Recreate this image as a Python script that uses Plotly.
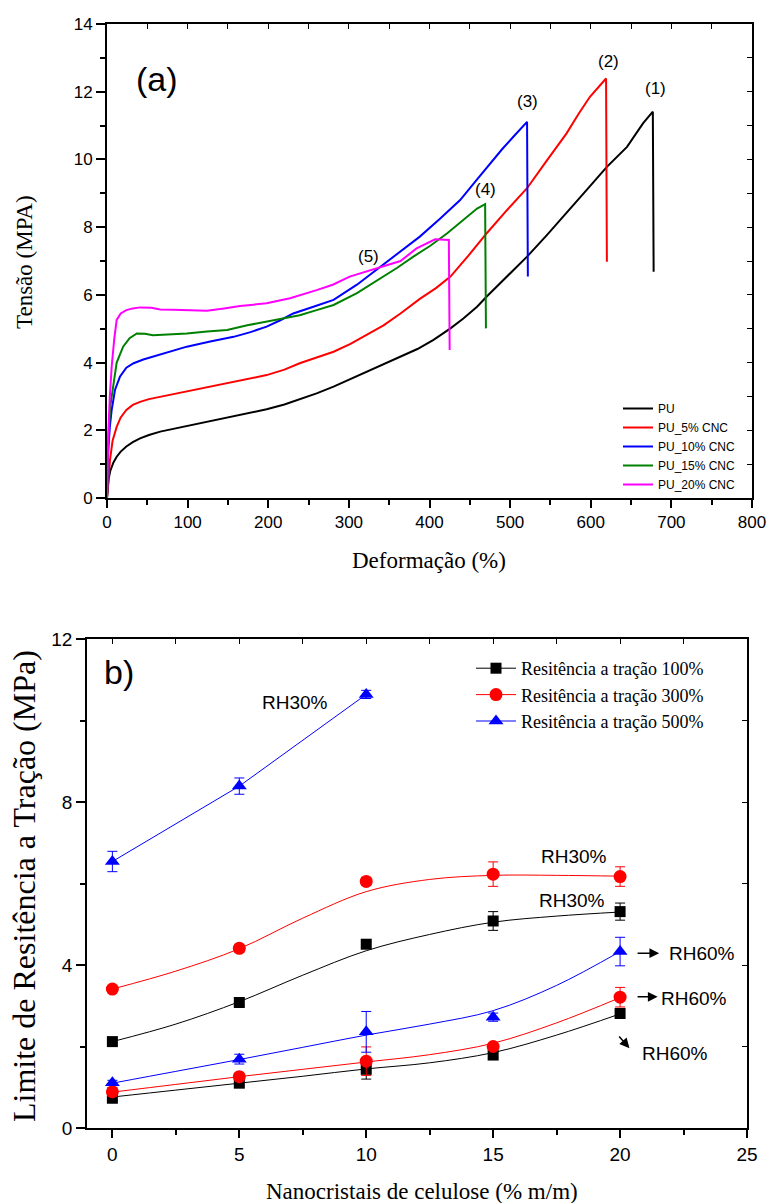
import plotly.graph_objects as go

W, H = 769, 1203

# ---------------- Panel (a): stress-strain curves ----------------
pu_x = [0, 1, 2, 4, 8, 12, 17, 24, 32, 41, 52, 66, 82, 99, 128, 157, 178, 198, 220, 239, 260, 281, 302, 322,
        343, 363, 385, 405, 426, 442, 459, 471, 496, 521, 545, 570, 595, 620, 645, 665, 677, 678]
pu_y = [0, 0.3, 0.55, 0.8, 1.05, 1.22, 1.37, 1.52, 1.65, 1.76, 1.86, 1.96, 2.04, 2.11, 2.25, 2.40, 2.50, 2.62,
        2.76, 2.91, 3.09, 3.29, 3.51, 3.73, 3.95, 4.15, 4.4, 4.67, 5.01, 5.30, 5.65, 5.95, 6.55, 7.13, 7.75,
        8.41, 9.1, 9.78, 10.37, 11.07, 11.41, 6.68]

pu5_x = [0, 1.5, 3.7, 7, 12, 17, 24, 32, 41, 52, 66, 82, 99, 128, 157, 178, 198, 220, 239, 260, 281, 302, 322,
         343, 364, 388, 408, 426, 448, 471, 496, 521, 545, 570, 585, 599, 619, 620]
pu5_y = [0, 0.6, 1.12, 1.7, 2.1, 2.38, 2.6, 2.75, 2.84, 2.92, 2.99, 3.07, 3.14, 3.28, 3.43, 3.53, 3.63, 3.79,
         3.98, 4.15, 4.32, 4.55, 4.81, 5.1, 5.45, 5.88, 6.2, 6.54, 7.15, 7.82, 8.5, 9.15, 9.95, 10.77, 11.35,
         11.85, 12.39, 6.98]

pu10_x = [0, 1.6, 3.5, 5.8, 10, 16, 24, 33, 45, 57, 78, 99, 128, 157, 178, 198, 215, 231, 256, 281, 310, 339,
          364, 388, 413, 438, 457, 475, 490, 504, 521, 522]
pu10_y = [0, 1.42, 2.1, 2.6, 3.2, 3.58, 3.85, 3.98, 4.09, 4.17, 4.32, 4.47, 4.62, 4.76, 4.9, 5.06, 5.25, 5.45,
          5.65, 5.85, 6.3, 6.83, 7.27, 7.72, 8.25, 8.8, 9.35, 9.88, 10.3, 10.67, 11.11, 6.54]

pu15_x = [0, 1.6, 4, 7.8, 12, 20, 28, 37, 47, 57, 78, 99, 124, 149, 174, 198, 220, 239, 260, 281, 310, 339,
          360, 380, 401, 422, 446, 459, 469, 470]
pu15_y = [0, 1.71, 2.7, 3.39, 4.0, 4.47, 4.72, 4.86, 4.85, 4.81, 4.83, 4.86, 4.92, 4.96, 5.1, 5.21, 5.3, 5.40,
          5.55, 5.70, 6.05, 6.49, 6.8, 7.13, 7.45, 7.82, 8.31, 8.55, 8.68, 5.01]

pu20_x = [0, 1.6, 3.5, 5.8, 9, 12, 17, 24, 32, 41, 55, 66, 82, 99, 124, 145, 165, 198, 227, 260, 280, 301, 320,
          339, 364, 384, 407, 424, 425]
pu20_y = [0, 1.91, 3.0, 3.88, 4.7, 5.26, 5.45, 5.55, 5.6, 5.63, 5.62, 5.57, 5.56, 5.55, 5.53, 5.6, 5.67, 5.75,
          5.9, 6.14, 6.3, 6.54, 6.68, 6.8, 7.0, 7.37, 7.64, 7.62, 4.37]

curve_names = ["PU", "PU_5% CNC", "PU_10% CNC", "PU_15% CNC", "PU_20% CNC"]
curve_colors = ["#000000", "#ff0000", "#0000ff", "#008000", "#ff00ff"]

peak_labels = ["(1)", "(2)", "(3)", "(4)", "(5)"]
peak_lab_x = [680, 622, 521, 470, 324]
peak_lab_y = [12.1, 12.89, 11.7, 9.1, 7.13]

# ---------------- Panel (b): tensile strength ----------------
cnc = [0, 5, 10, 15, 20]
cnc3 = [0, 5, 10]

s100_rh30 = [2.12, 3.08, 4.51, 5.08, 5.31]
e100_rh30 = [0.05, 0.06, 0.06, 0.23, 0.21]
s100_rh60 = [0.73, 1.10, 1.44, 1.79, 2.81]
e100_rh60 = [0.06, 0.06, 0.24, 0.06, 0.12]

s300_rh30 = [3.41, 4.41, 6.05, 6.23, 6.17]
e300_rh30 = [0.05, 0.10, 0.10, 0.30, 0.24]
s300_rh60 = [0.89, 1.26, 1.64, 2.00, 3.21]
e300_rh60 = [0.10, 0.06, 0.35, 0.06, 0.24]

s500_rh30 = [6.54, 8.39, 10.64]
e500_rh30 = [0.25, 0.20, 0.10]
s500_rh60 = [1.11, 1.69, 2.36, 2.72, 4.33]
e500_rh60 = [0.06, 0.12, 0.50, 0.10, 0.35]

# smooth fit curves
fit_x = [0, 2.5, 5, 7.5, 10, 12.5, 15, 17.5, 20]
fit100_rh30 = [2.12, 2.55, 3.1, 3.75, 4.35, 4.75, 5.05, 5.2, 5.3]
fit300_rh30 = [3.41, 3.85, 4.4, 5.15, 5.8, 6.1, 6.2, 6.2, 6.18]
fit100_rh60 = [0.76, 0.93, 1.1, 1.27, 1.45, 1.6, 1.85, 2.28, 2.8]
fit300_rh60 = [0.88, 1.07, 1.26, 1.44, 1.62, 1.8, 2.08, 2.58, 3.2]
fit500_rh60 = [1.1, 1.39, 1.68, 1.98, 2.28, 2.55, 2.88, 3.5, 4.33]

legend_b = ["Resitência a tração 100%", "Resitência a tração 300%", "Resitência a tração 500%"]
colors_b = ["#000000", "#ff0000", "#0000ff"]
symbols_b = ["square", "circle", "triangle-up"]
sizes_b = [11, 13, 13]

fig = go.Figure()

for xs, ys, nm, c in zip([pu_x, pu5_x, pu10_x, pu15_x, pu20_x],
                         [pu_y, pu5_y, pu10_y, pu15_y, pu20_y],
                         curve_names, curve_colors):
    fig.add_trace(go.Scatter(x=xs, y=ys, mode="lines", name=nm,
                             line=dict(color=c, width=2),
                             xaxis="x", yaxis="y", legend="legend"))

# fits
for ys, c in zip([fit100_rh30, fit300_rh30, fit100_rh60, fit300_rh60, fit500_rh60],
                 ["#000000", "#ff0000", "#000000", "#ff0000", "#0000ff"]):
    fig.add_trace(go.Scatter(x=fit_x, y=ys, mode="lines", line=dict(color=c, width=1, shape="spline"),
                             showlegend=False, xaxis="x2", yaxis="y2", hoverinfo="skip"))
fig.add_trace(go.Scatter(x=cnc3, y=s500_rh30, mode="lines", line=dict(color="#0000ff", width=1),
                         showlegend=False, xaxis="x2", yaxis="y2", hoverinfo="skip"))

# markers
series = [(cnc, s100_rh30, e100_rh30, 0), (cnc, s100_rh60, e100_rh60, 0),
          (cnc, s300_rh30, e300_rh30, 1), (cnc, s300_rh60, e300_rh60, 1),
          (cnc3, s500_rh30, e500_rh30, 2), (cnc, s500_rh60, e500_rh60, 2)]
for xs, ys, es, k in series:
    fig.add_trace(go.Scatter(x=xs, y=ys, mode="markers",
                             marker=dict(symbol=symbols_b[k], size=sizes_b[k], color=colors_b[k]),
                             error_y=dict(type="data", array=es, color=colors_b[k], thickness=1, width=5),
                             showlegend=False, xaxis="x2", yaxis="y2"))

# legend entries for panel b
for k in range(3):
    fig.add_trace(go.Scatter(x=[None], y=[None], mode="lines+markers", name=legend_b[k],
                             line=dict(color=colors_b[k], width=1),
                             marker=dict(symbol=symbols_b[k], size=sizes_b[k], color=colors_b[k]),
                             xaxis="x2", yaxis="y2", legend="legend2"))

# dummy traces for mirrored inner tick axes
fig.add_trace(go.Scatter(x=[None], y=[None], xaxis="x3", yaxis="y3", showlegend=False, hoverinfo="skip"))
fig.add_trace(go.Scatter(x=[None], y=[None], xaxis="x4", yaxis="y4", showlegend=False, hoverinfo="skip"))

tickfont_a = dict(family="Liberation Sans, Arial", size=17, color="black")
tickfont_b = dict(family="Liberation Sans, Arial", size=19, color="black")

dom_xa = [107 / W, 752 / W]
dom_ya = [1 - 498 / H, 1 - 24 / H]
dom_xb = [87 / W, 747 / W]
dom_yb = [1 - 1128 / H, 1 - 639 / H]

common = dict(showgrid=False, zeroline=False, showline=True, linecolor="black", mirror=True,
              ticks="outside", tickcolor="black", automargin=False)
inner = dict(ticks="inside", ticklen=5, tickwidth=1, tickcolor="black", showticklabels=False,
             showgrid=False, zeroline=False, showline=False, automargin=False)

fig.update_layout(
    template="none",
    width=W, height=H, margin=dict(l=0, r=0, t=0, b=0, pad=0), autosize=False,
    paper_bgcolor="white", plot_bgcolor="white",
    font=dict(family="Liberation Sans, Arial", color="black"),
    xaxis=dict(domain=dom_xa, range=[0, 800], dtick=100, tick0=0, anchor="y",
               linewidth=2, tickwidth=2, ticklen=8, tickfont=tickfont_a,
               minor=dict(dtick=50, ticks="outside", ticklen=5, tickwidth=2, tickcolor="black"), **common),
    yaxis=dict(domain=dom_ya, range=[0, 14], dtick=2, tick0=0, anchor="x",
               linewidth=2, tickwidth=2, ticklen=9, tickfont=tickfont_a,
               minor=dict(dtick=1, ticks="outside", ticklen=5, tickwidth=2, tickcolor="black"), **common),
    xaxis3=dict(overlaying="x", side="top", anchor="y3", range=[0, 800], dtick=50, tick0=0, **inner),
    yaxis3=dict(overlaying="y", side="right", anchor="x3", range=[0, 14], dtick=1, tick0=0, **inner),
    xaxis2=dict(domain=dom_xb, range=[-1, 25], dtick=5, tick0=0, anchor="y2",
                linewidth=1.5, tickwidth=1.5, ticklen=8, tickfont=tickfont_b,
                minor=dict(dtick=2.5, ticks="outside", ticklen=5, tickwidth=1.5, tickcolor="black"), **common),
    yaxis2=dict(domain=dom_yb, range=[0, 12], dtick=4, tick0=0, anchor="x2",
                linewidth=1.5, tickwidth=1.5, ticklen=9, tickfont=tickfont_b,
                minor=dict(dtick=2, ticks="outside", ticklen=5, tickwidth=1.5, tickcolor="black"), **common),
    xaxis4=dict(overlaying="x2", side="top", anchor="y4", range=[-1, 25], dtick=2.5, tick0=0, **inner),
    yaxis4=dict(overlaying="y2", side="right", anchor="x4", range=[0, 12], dtick=2, tick0=0, **inner),
    legend=dict(x=618 / W, y=1 - 394 / H, xanchor="left", yanchor="top", bgcolor="rgba(0,0,0,0)",
                font=dict(family="Liberation Sans, Arial", size=12, color="black"),
                itemwidth=30, tracegroupgap=0, borderwidth=0),
    legend2=dict(x=471 / W, y=1 - 650 / H, xanchor="left", yanchor="top", bgcolor="rgba(0,0,0,0)",
                 font=dict(family="Liberation Serif, Times New Roman", size=18, color="black"),
                 itemwidth=40, tracegroupgap=0, borderwidth=0),
    showlegend=True,
)

ann = []
for t, x, y in zip(peak_labels, peak_lab_x, peak_lab_y):
    ann.append(dict(x=x, y=y, xref="x", yref="y", text=t, showarrow=False,
                    font=dict(family="Liberation Sans, Arial", size=17, color="black")))
ann.append(dict(x=61.7, y=12.39, xref="x", yref="y", text="(a)", showarrow=False,
                font=dict(family="Liberation Sans, Arial", size=34, color="black")))
ann.append(dict(x=0.28, y=11.19, xref="x2", yref="y2", text="b)", showarrow=False,
                font=dict(family="Liberation Sans, Arial", size=34, color="black")))

rh_font = dict(family="Liberation Sans, Arial", size=19, color="black")
rh_txt = ["RH30%", "RH30%", "RH30%", "RH60%", "RH60%", "RH60%"]
rh_x = [7.21, 18.17, 18.1, 23.22, 22.9, 22.17]
rh_y = [10.43, 6.66, 5.58, 4.28, 3.18, 1.83]
for t, x, y in zip(rh_txt, rh_x, rh_y):
    ann.append(dict(x=x, y=y, xref="x2", yref="y2", text=t, showarrow=False, font=rh_font))

arrow_head_x = [21.54, 21.48, 20.37]
arrow_head_y = [4.29, 3.22, 1.96]
arrow_tail_x = [20.63, 20.63, 19.91]
arrow_tail_y = [4.29, 3.22, 2.28]
for hx, hy, tx, ty in zip(arrow_head_x, arrow_head_y, arrow_tail_x, arrow_tail_y):
    ann.append(dict(x=hx, y=hy, ax=tx, ay=ty, xref="x2", yref="y2", axref="x2", ayref="y2",
                    text="", showarrow=True, arrowhead=2, arrowsize=1.3, arrowwidth=1.5, arrowcolor="black"))

serif = "Liberation Serif, Times New Roman"
title_common = dict(xref="paper", yref="paper", showarrow=False, xanchor="center", yanchor="middle")
ann.append(dict(x=24 / W, y=1 - 262 / H, text="Tensão (MPA)", textangle=-90,
                font=dict(family=serif, size=23, color="black"), **title_common))
ann.append(dict(x=429 / W, y=1 - 560 / H, text="Deformação (%)",
                font=dict(family=serif, size=23, color="black"), **title_common))
ann.append(dict(x=24 / W, y=1 - 886 / H, text="Limite de Resitência a Tração (MPa)", textangle=-90,
                font=dict(family=serif, size=32, color="black"), **title_common))
ann.append(dict(x=422 / W, y=1 - 1191 / H, text="Nanocristais de celulose (% m/m)",
                font=dict(family=serif, size=23, color="black"), **title_common))

fig.update_layout(annotations=ann)

fig.write_html("out.html", config={"displayModeBar": False},
               post_script="document.body.style.margin='0';document.body.style.overflow='hidden';")
